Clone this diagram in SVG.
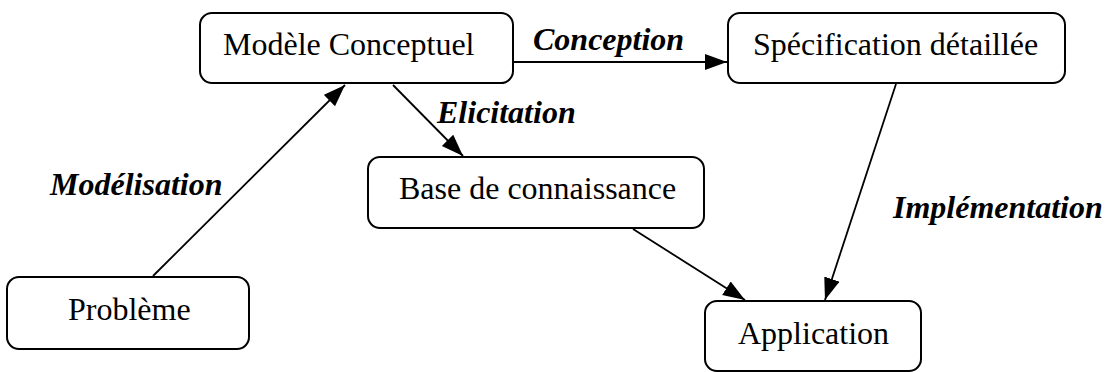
<svg xmlns="http://www.w3.org/2000/svg" width="1106" height="372" viewBox="0 0 1106 372">
  <style>
    .box { fill: #fff; stroke: #000; stroke-width: 2; }
    .lbl { font-family: "Liberation Serif", "Times New Roman", serif; font-size: 32px; fill: #000; }
    .edge { font-family: "Liberation Serif", "Times New Roman", serif; font-size: 32px; font-weight: bold; font-style: italic; fill: #000; }
    .conn { stroke: #000; stroke-width: 1.8; fill: none; marker-end: url(#arrow); }
  </style>
  <defs>
    <!-- filled triangular arrowhead, tip at the line end -->
    <marker id="arrow" markerUnits="userSpaceOnUse" markerWidth="24" markerHeight="18" refX="22" refY="8" orient="auto">
      <path d="M0,0 L22,8 L0,16 z" fill="#000"/>
    </marker>
  </defs>
  <rect width="1106" height="372" fill="#fff"/>

  <g id="connectors">
    <line class="conn" x1="153" y1="276" x2="345" y2="85"/>
    <line class="conn" x1="393" y1="85" x2="463" y2="156"/>
    <line class="conn" x1="514" y1="62" x2="727" y2="62"/>
    <line class="conn" x1="896" y1="84" x2="825" y2="300"/>
    <line class="conn" x1="633" y1="229" x2="745" y2="300"/>
    <text class="edge" x="533" y="50">Conception</text>
    <text class="edge" x="437" y="123">Elicitation</text>
    <text class="edge" x="50" y="195">Modélisation</text>
    <text class="edge" x="893" y="218">Implémentation</text>
  </g>

  <g id="modele-conceptuel">
    <rect class="box" x="200" y="13" width="313" height="70" rx="12"/>
    <text class="lbl" x="223" y="55">Modèle Conceptuel</text>
  </g>
  <g id="specification-detaillee">
    <rect class="box" x="728" y="13" width="337" height="70" rx="12"/>
    <text class="lbl" x="753" y="55">Spécification détaillée</text>
  </g>
  <g id="base-de-connaissance">
    <rect class="box" x="368" y="157" width="336" height="71" rx="12"/>
    <text class="lbl" x="399" y="199">Base de connaissance</text>
  </g>
  <g id="probleme">
    <rect class="box" x="7" y="277" width="242" height="72" rx="12"/>
    <text class="lbl" x="68" y="320">Problème</text>
  </g>
  <g id="application">
    <rect class="box" x="705" y="301" width="216" height="70" rx="12"/>
    <text class="lbl" x="738" y="344">Application</text>
  </g>
</svg>
